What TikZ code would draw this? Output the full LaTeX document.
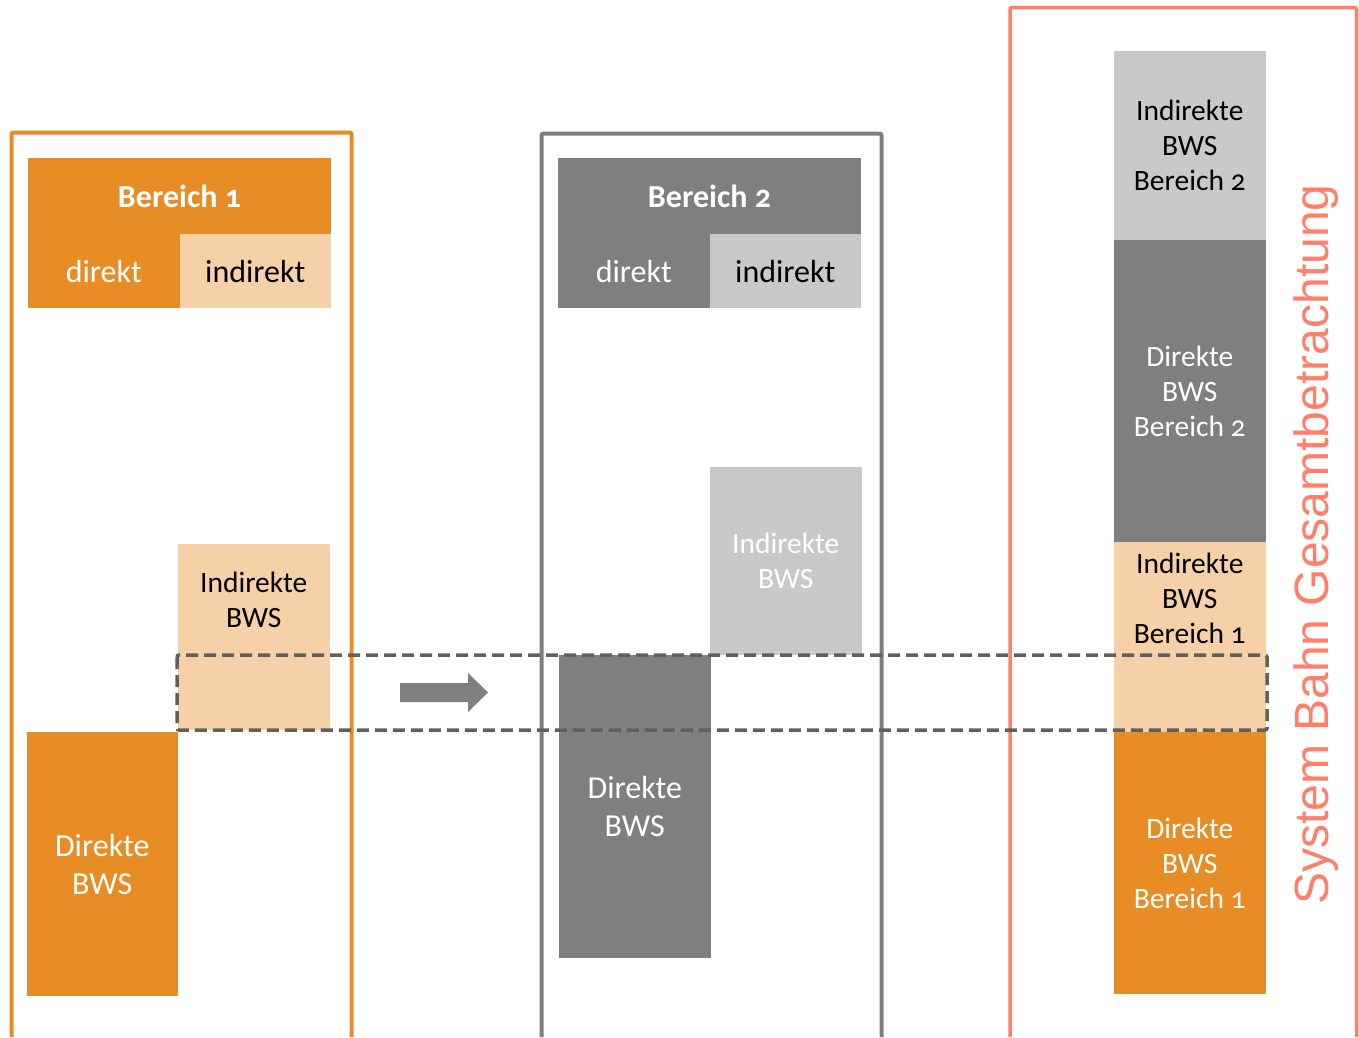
\documentclass[tikz,border=0pt]{standalone}
\usepackage{fontspec}
\setmainfont{Carlito}[Numbers=OldStyle]
\newfontfamily\arialfont{Liberation Sans}
\usepackage{tikz}
\definecolor{bworange}{HTML}{E88C26}
\definecolor{bwpeach}{HTML}{F6D0A6}
\definecolor{bwdark}{HTML}{7F7F7F}
\definecolor{bwlight}{HTML}{C9C9C9}
\definecolor{bwsalmon}{HTML}{FF7F68}
\definecolor{bwdash}{HTML}{606060}
\newcommand{\bwshead}{\fontsize{32}{38}\selectfont}
\newcommand{\bwssmall}{\fontsize{29.5}{35}\selectfont}
\newcommand{\bwsbig}{\fontsize{32}{38}\selectfont}

\begin{document}
\begin{tikzpicture}[x=1pt,y=-1pt,
		frame/.style={line width=4pt,rounded corners=2pt},
		cell/.style={anchor=north west,inner sep=0pt,outer sep=0pt,align=center,minimum width=151.5,minimum height=#1,font=\bwssmall}]
		\useasboundingbox (0,0) rectangle (1359,1037);
		\draw[frame,bworange](11.5,1037)--(11.5,132.5)--(351.5,132.5)--(351.5,1037);
		\node[cell=76,minimum width=303,fill=bworange,text=white,font=\bwshead\bfseries](hd1) at (28,158){Bereich 1};
		\node[cell=74,fill=bworange,text=white,font=\bwshead](dir1) at (hd1.south west){direkt};
		\node[cell=74,fill=bwpeach,font=\bwshead](ind1) at (dir1.north east){indirekt};
		\fill[bwpeach](178,650) rectangle (329.5,730);
		\node[cell=111,fill=bwpeach](ibws1) at (178,544){Indirekte\\BWS};
		\node[cell=264,fill=bworange,text=white,font=\bwsbig](dbws1) at (26.5,732){Direkte\\BWS};
		\draw[frame,bwdark](541.5,1037)--(541.5,133.5)--(881.5,133.5)--(881.5,1037);
		\node[cell=76,minimum width=303,fill=bwdark,text=white,font=\bwshead\bfseries](hd2) at (558,158){Bereich 2};
		\node[cell=74,fill=bwdark,text=white,font=\bwshead](dir2) at (hd2.south west){direkt};
		\node[cell=74,fill=bwlight,font=\bwshead](ind2) at (dir2.north east){indirekt};
		\node[cell=188,fill=bwlight,text=white](ibws2) at (710,467){Indirekte\\BWS};
		\node[cell=303,fill=bwdark,text=white,font=\bwsbig](dbws2) at (559,655){Direkte\\BWS};
		\draw[frame,bwsalmon,line width=3.5pt](1010,1037)--(1010,7.5)--(1356.5,7.5)--(1356.5,1037);
		\node[cell=189,fill=bwlight](ib2) at (1114,51){Indirekte\\BWS\\Bereich 2};
		\node[cell=302,fill=bwdark,text=white](db2) at (ib2.south west){Direkte\\BWS\\Bereich 2};
		\fill[bwpeach](1114,650) rectangle (1265.5,732);
		\node[cell=113,fill=bwpeach](ib1) at (db2.south west){Indirekte\\BWS\\Bereich 1};
		\node[cell=262,fill=bworange,text=white](db1) at (1114,732){Direkte\\BWS\\Bereich 1};
		\node[rotate=90,anchor=base west,inner sep=0pt,text=bwsalmon,font=\arialfont\fontsize{48}{58}\selectfont](sysbahn) at (1328,905){System Bahn Gesamtbetrachtung};
		\fill[bwdark](400,683)--(468,683)--(468,673)--(488,692.5)--(468,712)--(468,702)--(400,702)--cycle;
		\draw[bwdash,line width=3.5pt,dash pattern=on 12pt off 6pt,rounded corners=2pt](177,655) rectangle (1267,730);
	\end{tikzpicture}
\end{document}
